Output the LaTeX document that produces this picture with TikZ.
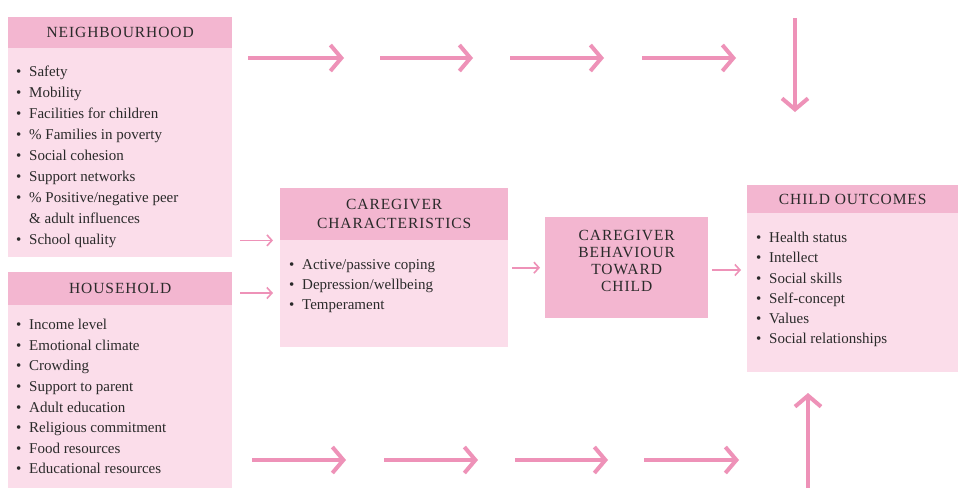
\documentclass[tikz,border=0pt]{standalone}
\usepackage{fontspec}
\setmainfont{Liberation Serif}
\usetikzlibrary{arrows.meta,positioning,calc}
\definecolor{hdrpink}{HTML}{F3B6D0}
\definecolor{bodypink}{HTML}{FBDDEA}
\definecolor{arrpink}{HTML}{EE92B8}
\definecolor{txt}{HTML}{2A2A2A}
\newfontfamily\hdrfont[LetterSpace=6]{Liberation Serif}
\tikzset{
  bodybox/.style={fill=bodypink, draw=none, anchor=north west, inner sep=0pt},
  hdrbox/.style={fill=hdrpink, draw=none, anchor=north west, inner sep=0pt, text=txt, font=\hdrfont\fontsize{15.5}{19}\selectfont, align=center},
  itemlist/.style={anchor=north west, inner sep=0pt, text=txt, font=\fontsize{15}{21}\selectfont, align=left},
  bigarr/.style={draw=arrpink, line width=4pt, -{Straight Barb[length=11pt,width=26pt,line width=4pt]}},
  smallarr/.style={draw=arrpink, line width=1.8pt, -{Straight Barb[length=5pt,width=11pt,line width=1.6pt]}},
}
\newcommand{\itm}{\makebox[13pt][l]{\textbullet}}
\begin{document}
\begin{tikzpicture}[x=1pt,y=-1pt]
\useasboundingbox (0,0) rectangle (960,488);
\fill[white] (0,0) rectangle (960,488);
% Neighbourhood
\node[bodybox, minimum width=224pt, minimum height=240pt] (nb) at (8,17) {};
\node[hdrbox, minimum width=224pt, minimum height=31pt] (nbh) at (8,17) {NEIGHBOURHOOD};
\node[itemlist] (nbl) at (16,66) {\itm Safety\\ \itm Mobility\\ \itm Facilities for children\\ \itm \% Families in poverty\\ \itm Social cohesion\\ \itm Support networks\\ \itm \% Positive/negative peer\\ \hspace*{13pt}\& adult influences\\ \itm School quality};
% Household
\node[bodybox, minimum width=224pt, minimum height=216pt] (hh) at (8,272) {};
\node[hdrbox, minimum width=224pt, minimum height=33pt] (hhh) at (8,272) {HOUSEHOLD};
\node[itemlist, font=\fontsize{15}{20.6}\selectfont] (hhl) at (16,319) {\itm Income level\\ \itm Emotional climate\\ \itm Crowding\\ \itm Support to parent\\ \itm Adult education\\ \itm Religious commitment\\ \itm Food resources\\ \itm Educational resources};
% Caregiver characteristics
\node[bodybox, minimum width=228pt, minimum height=159pt] (cc) at (280,188) {};
\node[hdrbox, minimum width=228pt, minimum height=52pt] (cch) at (280,188) {CAREGIVER\\CHARACTERISTICS};
\node[itemlist, font=\fontsize{15}{20}\selectfont] (ccl) at (289,259) {\itm Active/passive coping\\ \itm Depression/wellbeing\\ \itm Temperament};
% Caregiver behaviour
\node[fill=hdrpink, anchor=north west, minimum width=163pt, minimum height=101pt, inner sep=0pt] (cb) at (545,217) {};
\node[text=txt, font=\hdrfont\fontsize{15.5}{17}\selectfont, align=center, inner sep=0pt] (cbt) at ([yshift=7pt]cb.center) {CAREGIVER\\BEHAVIOUR\\TOWARD\\CHILD};
% Child outcomes
\node[bodybox, minimum width=211pt, minimum height=187pt] (co) at (747,185) {};
\node[hdrbox, minimum width=211pt, minimum height=28pt] (coh) at (747,185) {CHILD OUTCOMES};
\node[itemlist, font=\fontsize{15}{20.2}\selectfont] (col) at (756,232) {\itm Health status\\ \itm Intellect\\ \itm Social skills\\ \itm Self-concept\\ \itm Values\\ \itm Social relationships};
% decorative big arrows, top row
\coordinate (t1a) at (248,58); \coordinate (t1b) at (344,58);
\coordinate (t2a) at (380,58); \coordinate (t2b) at (473,58);
\coordinate (t3a) at (510,58); \coordinate (t3b) at (604,58);
\coordinate (t4a) at (642,58); \coordinate (t4b) at (736,58);
\coordinate (tda) at (795,18); \coordinate (tdb) at (795,112);
\draw[bigarr] (t1a) -- (t1b);
\draw[bigarr] (t2a) -- (t2b);
\draw[bigarr] (t3a) -- (t3b);
\draw[bigarr] (t4a) -- (t4b);
\draw[bigarr] (tda) -- (tdb);
% bottom row
\coordinate (b1a) at (252,460); \coordinate (b1b) at (346,460);
\coordinate (b2a) at (384,460); \coordinate (b2b) at (478,460);
\coordinate (b3a) at (515,460); \coordinate (b3b) at (608,460);
\coordinate (b4a) at (644,460); \coordinate (b4b) at (739,460);
\coordinate (bua) at (808,488); \coordinate (bub) at (808,393);
\draw[bigarr] (b1a) -- (b1b);
\draw[bigarr] (b2a) -- (b2b);
\draw[bigarr] (b3a) -- (b3b);
\draw[bigarr] (b4a) -- (b4b);
\draw[bigarr] (bua) -- (bub);
% small connectors
\draw[smallarr] ([xshift=8pt]nb.east |- cch.south) -- ([xshift=-7pt]cch.south west);
\coordinate (hs) at ([xshift=8pt]hhh.east);
\draw[smallarr] (hs |- 0,293) -- ([xshift=-7pt]cc.west |- 0,293);
\draw[smallarr] ([xshift=4pt]cc.east) -- ([xshift=-5pt]cb.west);
\draw[smallarr] ([xshift=4pt]cb.east |- 0,270) -- ([xshift=-6pt]co.west |- 0,270);
\end{tikzpicture}
\end{document}
